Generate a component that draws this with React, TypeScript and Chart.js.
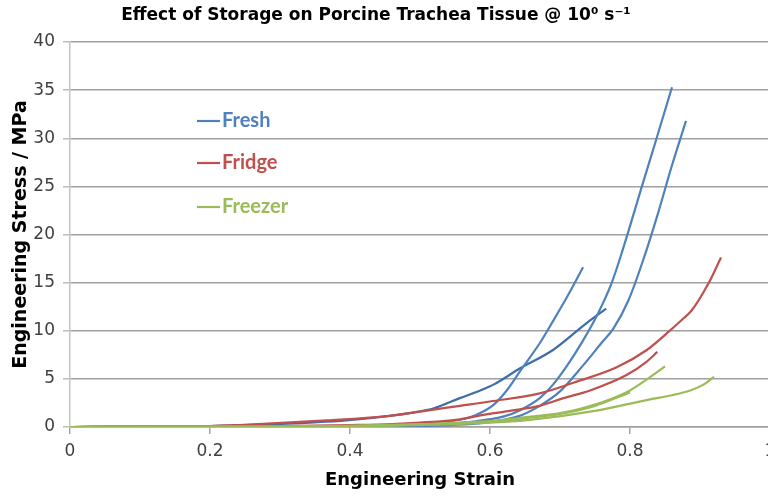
import React, { useEffect, useRef } from "react";
import { Chart, registerables } from "chart.js";

Chart.register(...registerables);

// ---- Data (Engineering strain vs engineering stress, MPa) ----
const freshAStrain = [0, 0.1, 0.2, 0.3, 0.4, 0.45, 0.5, 0.53, 0.557, 0.58, 0.605, 0.625, 0.643, 0.671, 0.69, 0.71, 0.733];
const freshAStress = [0, 0.01, 0.02, 0.05, 0.1, 0.18, 0.35, 0.5, 0.75, 1.25, 2.3, 3.9, 5.8, 8.7, 11.0, 13.5, 16.6];

const freshBStrain = [0, 0.2, 0.4, 0.5, 0.58, 0.62, 0.643, 0.671, 0.69, 0.714, 0.733, 0.755, 0.774, 0.79, 0.817, 0.838, 0.86];
const freshBStress = [0, 0.01, 0.05, 0.2, 0.6, 1.1, 1.75, 3.0, 4.4, 6.8, 9.0, 11.9, 15.0, 18.5, 25.0, 30.0, 35.3];

const freshCStrain = [0, 0.2, 0.4, 0.5, 0.6, 0.64, 0.671, 0.7, 0.733, 0.76, 0.776, 0.798, 0.82, 0.84, 0.86, 0.88];
const freshCStress = [0, 0.01, 0.03, 0.1, 0.5, 1.1, 2.2, 3.7, 6.4, 8.8, 10.2, 13.2, 17.6, 22.2, 27.2, 31.8];

const freshDStrain = [0, 0.1, 0.2, 0.27, 0.32, 0.367, 0.41, 0.45, 0.49, 0.52, 0.557, 0.586, 0.605, 0.643, 0.69, 0.738, 0.766];
const freshDStress = [0, 0.02, 0.1, 0.25, 0.38, 0.55, 0.8, 1.1, 1.5, 1.95, 3.0, 3.8, 4.4, 6.1, 8.0, 10.8, 12.3];

const fridgeAStrain = [0, 0.1, 0.15, 0.2, 0.27, 0.367, 0.45, 0.5, 0.557, 0.6, 0.671, 0.719, 0.781, 0.824, 0.852, 0.875, 0.888, 0.912, 0.93];
const fridgeAStress = [0, 0.02, 0.04, 0.1, 0.3, 0.68, 1.1, 1.6, 2.2, 2.65, 3.5, 4.6, 6.2, 8.0, 9.7, 11.2, 12.1, 14.9, 17.6];

const fridgeBStrain = [0, 0.2, 0.3, 0.4, 0.46, 0.5, 0.557, 0.586, 0.63, 0.671, 0.705, 0.743, 0.795, 0.824, 0.839];
const fridgeBStress = [0, 0.05, 0.1, 0.2, 0.3, 0.45, 0.8, 1.2, 1.7, 2.2, 3.0, 3.8, 5.4, 6.8, 7.8];

const freezerAStrain = [0, 0.3, 0.4, 0.5, 0.586, 0.643, 0.7, 0.729, 0.765, 0.8, 0.825, 0.85];
const freezerAStress = [0, 0.05, 0.12, 0.3, 0.55, 0.95, 1.45, 1.9, 2.7, 3.8, 5.0, 6.3];

const freezerBStrain = [0, 0.3, 0.45, 0.586, 0.657, 0.752, 0.824, 0.86, 0.886, 0.905, 0.92];
const freezerBStress = [0, 0.03, 0.15, 0.4, 0.75, 1.7, 2.8, 3.3, 3.8, 4.4, 5.2];

const freezerCStrain = [0, 0.3, 0.4, 0.5, 0.586, 0.65, 0.7, 0.75, 0.8];
const freezerCStress = [0, 0.04, 0.1, 0.25, 0.5, 0.9, 1.35, 2.2, 3.6];

const xTickLabels = ["0", "0.2", "0.4", "0.6", "0.8", "1"];
const legendLabels = ["Fresh", "Fridge", "Freezer"];
const titleText = "Effect of Storage on Porcine Trachea Tissue @ 10\u2070 s\u207B\u00B9";
const xAxisTitle = "Engineering Strain";
const yAxisTitle = "Engineering Stress / MPa";

const BLUE = "#4F81BD";
const BLUE_DARK = "#3E6EA8";
const RED = "#C0504D";
const GREEN = "#9BBB59";
const legendColors = [BLUE, RED, GREEN];

function pts(xs: number[], ys: number[]) {
  return xs.map((x, i) => ({ x, y: ys[i] }));
}

function ds(label: string, xs: number[], ys: number[], color: string) {
  return {
    label,
    data: pts(xs, ys),
    borderColor: color,
    backgroundColor: color,
    borderWidth: 2.2,
    pointRadius: 0,
    fill: false,
    cubicInterpolationMode: "monotone" as const,
  };
}

const overlayPlugin = {
  id: "overlay",
  afterDraw(chart: any) {
    const ctx = chart.ctx;
    ctx.save();
    // Title
    ctx.fillStyle = "#000";
    ctx.font = "bold 17px 'DejaVu Sans'";
    ctx.textAlign = "center";
    ctx.textBaseline = "middle";
    ctx.fillText(titleText, 376, 16);
    // Legend
    const ys = [121, 163, 207];
    legendLabels.forEach((lab, i) => {
      const y = ys[i];
      ctx.strokeStyle = legendColors[i];
      ctx.lineWidth = 2.2;
      ctx.beginPath();
      ctx.moveTo(197, y);
      ctx.lineTo(220, y);
      ctx.stroke();
      ctx.fillStyle = legendColors[i];
      ctx.font = "bold 20px Lato";
      ctx.textAlign = "left";
      ctx.textBaseline = "middle";
      ctx.fillText(lab, 222, y);
    });
    ctx.restore();
  },
};

export default function App() {
  const ref = useRef<HTMLCanvasElement | null>(null);
  useEffect(() => {
    if (!ref.current) return;
    const chart = new Chart(ref.current, {
      type: "line",
      data: {
        datasets: [
          ds("Freezer", freezerAStrain, freezerAStress, GREEN),
          ds("Freezer", freezerBStrain, freezerBStress, GREEN),
          ds("Freezer", freezerCStrain, freezerCStress, GREEN),
          ds("Fridge", fridgeAStrain, fridgeAStress, RED),
          ds("Fridge", fridgeBStrain, fridgeBStress, RED),
          ds("Fresh", freshAStrain, freshAStress, BLUE),
          ds("Fresh", freshBStrain, freshBStress, BLUE),
          ds("Fresh", freshCStrain, freshCStress, BLUE),
          ds("Fresh", freshDStrain, freshDStress, BLUE_DARK),
        ],
      },
      options: {
        animation: false,
        responsive: false,
        maintainAspectRatio: false,
        layout: { padding: { left: 0, top: 42, right: 30, bottom: 0 } },
        plugins: {
          legend: { display: false },
          title: { display: false },
          tooltip: { enabled: false },
        },
        scales: {
          x: {
            type: "linear",
            min: 0,
            max: 1,
            afterFit: (s: any) => {
              s.height = 69;
            },
            ticks: {
              stepSize: 0.2,
              autoSkip: false,
              maxRotation: 0,
              padding: 7,
              color: "#404040",
              font: { family: "'DejaVu Sans'", size: 17 },
              callback: (_v: any, i: number) => xTickLabels[i],
            },
            grid: {
              drawOnChartArea: false,
              drawTicks: true,
              tickLength: 7,
              tickColor: "#a6a6a6",
              lineWidth: 1.5,
            },
            border: { display: true, color: "#a0a0a0", width: 1.5 },
            title: {
              display: true,
              text: xAxisTitle,
              color: "#000",
              font: { family: "'DejaVu Sans'", size: 18, weight: "bold" },
              padding: { top: 0, bottom: 5 },
            },
          },
          y: {
            type: "linear",
            min: 0,
            max: 40,
            afterFit: (s: any) => {
              s.width = 70;
            },
            ticks: {
              stepSize: 5,
              padding: 8,
              color: "#404040",
              font: { family: "'DejaVu Sans'", size: 17 },
            },
            grid: {
              color: "#a0a0a0",
              lineWidth: 1.5,
              drawTicks: true,
              tickLength: 7,
              tickColor: "#bdbdbd",
            },
            border: { display: true, color: "#c4c4c4", width: 1.5 },
            title: {
              display: true,
              text: yAxisTitle,
              color: "#000",
              font: { family: "'DejaVu Sans'", size: 19, weight: "bold" },
              padding: { top: 10, bottom: 0 },
            },
          },
        },
      },
      plugins: [overlayPlugin],
    } as any);
    return () => chart.destroy();
  }, []);

  return (
    <div
      style={{
        position: "fixed",
        left: 0,
        top: 0,
        width: 768,
        height: 496,
        overflow: "hidden",
        background: "#fff",
      }}
    >
      <canvas ref={ref} width={800} height={496} style={{ display: "block" }} />
    </div>
  );
}
